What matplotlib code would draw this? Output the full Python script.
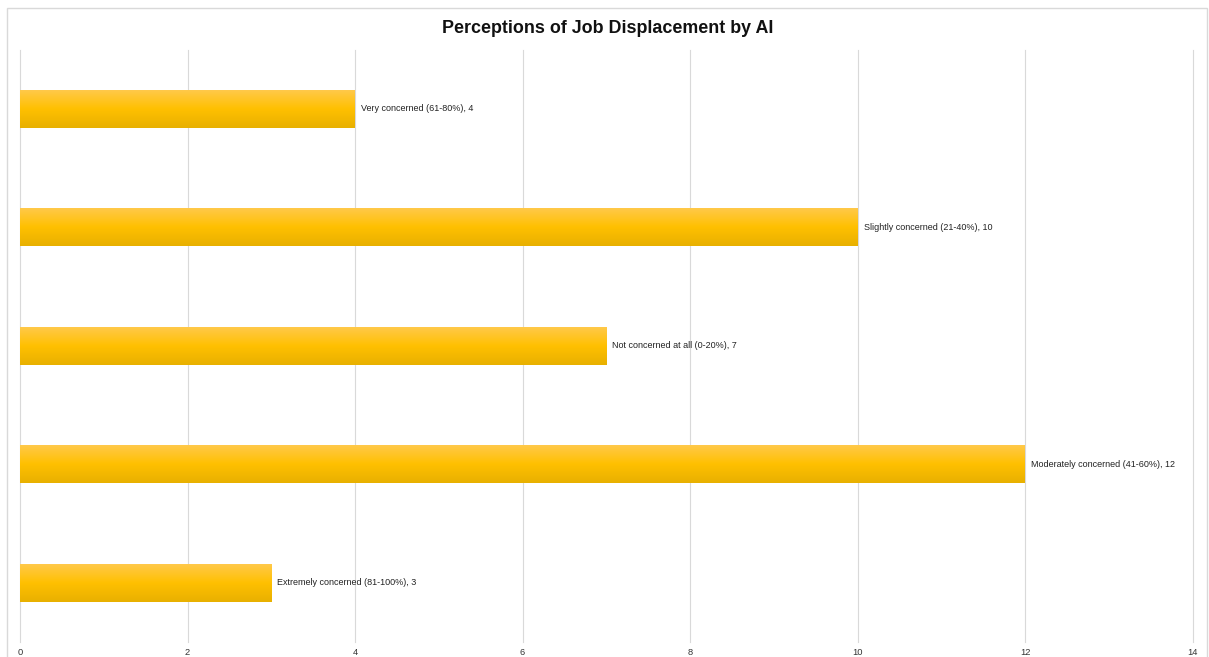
import matplotlib
matplotlib.use("Agg")
import matplotlib.pyplot as plt
import numpy as np
from matplotlib.colors import LinearSegmentedColormap
from matplotlib.patches import Rectangle

plt.rcParams['font.family'] = ['Liberation Sans', 'DejaVu Sans']

categories = [
    "Extremely concerned (81-100%)",
    "Moderately concerned (41-60%)",
    "Not concerned at all (0-20%)",
    "Slightly concerned (21-40%)",
    "Very concerned (61-80%)",
]
counts = [3, 12, 7, 10, 4]
x_ticks = [0, 2, 4, 6, 8, 10, 12, 14]

W, H = 1209, 657
fig = plt.figure(figsize=(W / 100, H / 100), dpi=100)

# light frame around the chart area
fig.patches.append(Rectangle((7 / W, -0.05), 1200 / W, 1 - 8 / H + 0.05,
                             transform=fig.transFigure, fill=False,
                             edgecolor="#d9d9d9", linewidth=1.0))

ax = fig.add_axes([20 / W, 1 - 642 / H, (1192.5 - 20) / W, (642 - 49.5) / H])

ypos = np.arange(len(categories))
bars = ax.barh(ypos, counts, height=0.32, color="#FFC000", zorder=2)

# vertical gold gradient on each bar
grad_cmap = LinearSegmentedColormap.from_list(
    "gold", ["#E8B000", "#FFC000", "#FFC94A"])
grad = np.linspace(0, 1, 256).reshape(-1, 1)
for b in bars:
    x0, y0 = b.get_x(), b.get_y()
    w, h = b.get_width(), b.get_height()
    im = ax.imshow(grad, cmap=grad_cmap, aspect="auto", origin="lower",
                   extent=(x0, x0 + w, y0, y0 + h), zorder=3)
    im.set_clip_path(b)

for y, cat, v in zip(ypos, categories, counts):
    ax.annotate(f"{cat}, {v}", xy=(v, y), xytext=(4.4, 0),
                textcoords="offset points", va="center", ha="left",
                fontsize=6.5, color="#222222", zorder=4)

ax.set_xlim(0, 14)
ax.set_ylim(-0.5, len(categories) - 0.5)
ax.set_xticks(x_ticks)
ax.set_xticklabels([str(t) for t in x_ticks])
ax.set_yticks([])
ax.tick_params(axis="x", length=0, pad=4, labelsize=6.7, labelcolor="#333333")
ax.grid(axis="x", color="#d9d9d9", linewidth=0.8, zorder=0)
for gl in ax.get_xgridlines():
    gl.set_clip_on(False)
ax.set_axisbelow(True)
for s in ax.spines.values():
    s.set_visible(False)

fig.text(608 / W, 1 - 28.5 / H, "Perceptions of Job Displacement by AI",
         ha="center", va="center", fontsize=12.9, fontweight="bold",
         color="#111111")

fig.savefig("out.png", dpi=100)
